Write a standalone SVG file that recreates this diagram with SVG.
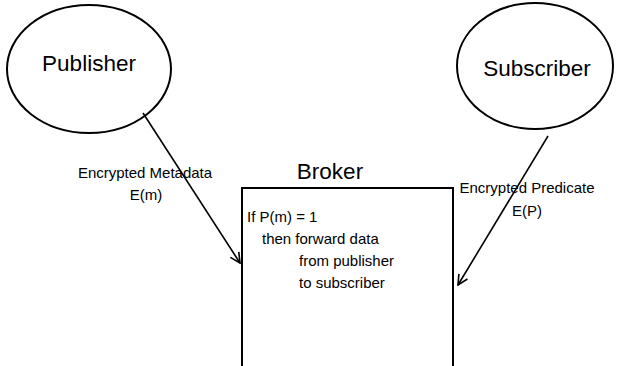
<svg xmlns="http://www.w3.org/2000/svg" width="618" height="366" viewBox="0 0 618 366">
<defs>
<style>
.shape{fill:#fff;stroke:#000;stroke-width:2}
.t{font-family:"Liberation Sans",Arial,sans-serif;fill:#000}
.big{font-size:22.5px;text-anchor:middle}
.sm{font-size:15px}
.c{text-anchor:middle}
.conn{stroke:#000;stroke-width:1.6;fill:none;marker-end:url(#arr)}
</style>
<marker id="arr" viewBox="0 0 12 12" refX="11" refY="6" markerWidth="12" markerHeight="12" markerUnits="userSpaceOnUse" orient="auto">
<path d="M1,1 L11,6 L1,11" fill="none" stroke="#000" stroke-width="1.6"/>
</marker>
</defs>
<rect width="618" height="366" fill="#fff"/>
<g id="publisher">
<ellipse class="shape" cx="89" cy="69" rx="82" ry="64"/>
<text class="t big" x="89" y="71">Publisher</text>
</g>
<g id="subscriber">
<ellipse class="shape" cx="535" cy="66" rx="78" ry="63"/>
<text class="t big" x="537" y="76">Subscriber</text>
</g>
<g id="broker">
<rect class="shape" x="242" y="188" width="211" height="190"/>
<text class="t big" x="330" y="179">Broker</text>
<text class="t sm" x="247" y="222">If P(m) = 1</text>
<text class="t sm" x="262" y="244">then forward data</text>
<text class="t sm" x="299" y="266">from publisher</text>
<text class="t sm" x="299" y="288">to subscriber</text>
</g>
<g id="connectors">
<line class="conn" x1="143" y1="113" x2="240" y2="263"/>
<line class="conn" x1="548" y1="136" x2="458" y2="285"/>
<text class="t sm c" x="145" y="178">Encrypted Metadata</text>
<text class="t sm c" x="146" y="200">E(m)</text>
<text class="t sm c" x="527" y="193">Encrypted Predicate</text>
<text class="t sm c" x="527" y="216">E(P)</text>
</g>
</svg>
